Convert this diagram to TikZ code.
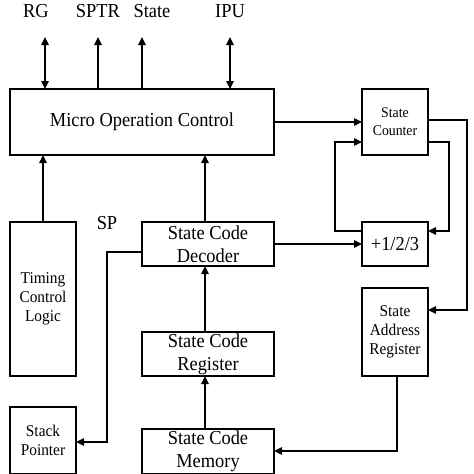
\documentclass[tikz,border=0pt]{standalone}
\usepackage{fontspec}
\setmainfont[FakeStretch=0.93]{Liberation Serif}
\usetikzlibrary{arrows.meta}
\begin{document}
\begin{tikzpicture}[x=1pt,y=-1pt,line width=1.1pt,
  blk/.style={draw,rectangle,line width=1.1pt},
  txt/.style={align=center,inner sep=0pt},
  arr/.style={-{Triangle[length=8pt,width=7.5pt]}},
  darr/.style={{Triangle[length=8pt,width=7.5pt]}-{Triangle[length=8pt,width=7.5pt]}},
  big/.style={font=\fontsize{19.8}{23}\selectfont},
  mid/.style={font=\fontsize{16.5}{18.8}\selectfont},
  sml/.style={font=\fontsize{14.8}{18}\selectfont}]
\useasboundingbox (0,0) rectangle (474,474);
\clip (0,0) rectangle (474,474);
% boxes
\draw[blk] (10,89) rectangle (274,155);
\node[txt,big] (moc) at (142,122) {Micro Operation Control};
\draw[blk] (362,89) rectangle (428,155);
\node[txt,sml] (sc) at (395,122) {State\\Counter};
\draw[blk] (362,222) rectangle (428,266);
\node[txt,big] (inc) at (395,244) {+1/2/3};
\draw[blk] (142,222) rectangle (274,266);
\node[txt,big] (dec) at (208,244) {State Code\\Decoder};
\draw[blk] (10,222) rectangle (76,376);
\node[txt,mid] (tcl) at (43,299) {Timing\\Control\\Logic};
\draw[blk] (362,288) rectangle (428,376);
\node[txt,mid] (sar) at (395,332) {State\\Address\\Register};
\draw[blk] (142,332) rectangle (274,376);
\node[txt,big] (reg) at (208,354) {State Code\\Register};
\draw[blk] (10,407) rectangle (76,474);
\node[txt,mid] (sp) at (43,440) {Stack\\Pointer};
\draw[blk] (142,429) rectangle (274,474);
\node[txt,big] (mem) at (208,451) {State Code\\Memory};
% top labels
\node[txt,big,anchor=base] (lrg) at (36,17) {RG};
\node[txt,big,anchor=base] (lsptr) at (98,17) {SPTR};
\node[txt,big,anchor=base] (lstate) at (152,17) {State};
\node[txt,big,anchor=base] (lipu) at (230,17) {IPU};
\node[txt,big,anchor=base] (lsp) at (107,229) {SP};
% coordinates
\coordinate (rgt) at (45,37); \coordinate (rgb) at (45,89);
\coordinate (spt) at (98,37); \coordinate (spb) at (98,89);
\coordinate (stt) at (142,37); \coordinate (stb) at (142,89);
\coordinate (ipt) at (230,37); \coordinate (ipb) at (230,89);
\draw[darr] (rgt) -- (rgb);
\draw[arr] (spb) -- (spt);
\draw[arr] (stb) -- (stt);
\draw[darr] (ipt) -- (ipb);
% connections
\coordinate (mocR) at (274,122); \coordinate (scL1) at (362,122);
\draw[arr] (mocR) -- (scL1);
\coordinate (incL1) at (362,231); \coordinate (scL2) at (362,142);
\draw[arr] (incL1) -- (335,231) -- (335,142) -- (scL2);
\coordinate (scR2) at (428,142); \coordinate (incR) at (428,231);
\draw[arr] (scR2) -- (449,142) -- (449,231) -- (incR);
\coordinate (scR1) at (428,120); \coordinate (sarR) at (428,310);
\draw[arr] (scR1) -- (467,120) -- (467,310) -- (sarR);
\coordinate (decR) at (274,244); \coordinate (incL2) at (362,244);
\draw[arr] (decR) -- (incL2);
\coordinate (tclT) at (43,222); \coordinate (mocB1) at (43,155);
\draw[arr] (tclT) -- (mocB1);
\coordinate (decT) at (205,222); \coordinate (mocB2) at (205,155);
\draw[arr] (decT) -- (mocB2);
\coordinate (decL) at (142,252); \coordinate (spR) at (76,442);
\draw[arr] (decL) -- (107,252) -- (107,442) -- (spR);
\coordinate (regT) at (205,332); \coordinate (decB) at (205,266);
\draw[arr] (regT) -- (decB);
\coordinate (memT) at (205,429); \coordinate (regB) at (205,376);
\draw[arr] (memT) -- (regB);
\coordinate (sarB) at (397,376); \coordinate (memR) at (274,451);
\draw[arr] (sarB) -- (397,451) -- (memR);
\end{tikzpicture}
\end{document}
